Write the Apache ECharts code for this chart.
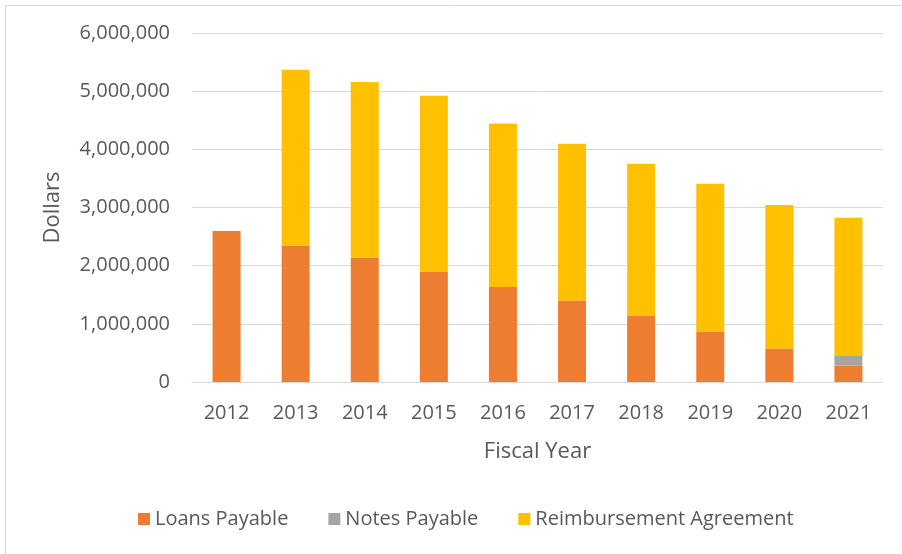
<!DOCTYPE html>
<html>
<head>
<meta charset="utf-8">
<script src="https://cdn.jsdelivr.net/npm/echarts@6/dist/echarts.min.js"></script>
<style>
  html, body { margin: 0; padding: 0; background: #fff; }
  #main { width: 902px; height: 554px; }
</style>
</head>
<body>
<div id="main"></div>
<script>
// fiscal years
var years = ['2012', '2013', '2014', '2015', '2016', '2017', '2018', '2019', '2020', '2021'];
// dollars per series
var loansPayable = [2596000, 2348000, 2142000, 1901000, 1633000, 1403000, 1135000, 870000, 578000, 285000];
var notesPayable = [0, 0, 0, 0, 0, 0, 0, 0, 0, 162000];
var reimbursement = [0, 3021000, 3015000, 3021000, 2813000, 2694000, 2618000, 2539000, 2465000, 2378000];
var seriesNames = ['Loans Payable', 'Notes Payable', 'Reimbursement Agreement'];

var chart = echarts.init(document.getElementById('main'), null, { renderer: 'canvas' });
var font = '"Open Sans", "Liberation Sans", sans-serif';
var textColor = '#595959';

var option = {
  backgroundColor: '#fff',
  animation: false,
  textStyle: { fontFamily: font },
  graphic: [{   // outer chart border (only top/left visible in the crop)
    type: 'rect',
    shape: { x: 5.5, y: 5.5, width: 920, height: 580 },
    style: { fill: 'none', stroke: '#D9D9D9', lineWidth: 1 },
    silent: true
  }],
  grid: {
    left: 192,
    right: 19,
    top: 33,
    bottom: 172
  },
  legend: {
    data: seriesNames,
    left: 133,
    top: 504,
    itemWidth: 12,
    itemHeight: 12,
    itemGap: 40,
    icon: 'rect',
    textStyle: { color: textColor, fontSize: 20, fontFamily: font }
  },
  xAxis: {
    type: 'category',
    data: years,
    name: 'Fiscal Year',
    nameLocation: 'middle',
    nameGap: 59,
    nameTextStyle: { color: textColor, fontSize: 22, fontFamily: font },
    axisLine: { lineStyle: { color: '#D9D9D9', width: 1 } },
    axisTick: { show: false },
    axisLabel: { color: textColor, fontSize: 20, margin: 21, fontFamily: font }
  },
  yAxis: {
    type: 'value',
    min: 0,
    max: 6000000,
    interval: 1000000,
    name: 'Dollars',
    nameLocation: 'middle',
    nameGap: 128,
    nameRotate: 90,
    nameTextStyle: { color: textColor, fontSize: 22, fontFamily: font },
    axisLine: { show: false },
    axisTick: { show: false },
    splitLine: { lineStyle: { color: '#D9D9D9', width: 1 } },
    axisLabel: {
      color: textColor,
      fontSize: 20,
      margin: 22,
      fontFamily: font,
      formatter: function (v) { return v.toLocaleString('en-US'); }
    }
  },
  series: [{
    name: seriesNames[0],
    type: 'bar',
    stack: 'total',
    barWidth: 28,
    data: loansPayable,
    itemStyle: { color: '#ED7D31' }
  }, {
    name: seriesNames[1],
    type: 'bar',
    stack: 'total',
    barWidth: 28,
    data: notesPayable,
    itemStyle: { color: '#A5A5A5' }
  }, {
    name: seriesNames[2],
    type: 'bar',
    stack: 'total',
    barWidth: 28,
    data: reimbursement,
    itemStyle: { color: '#FFC000' }
  }]
};

chart.setOption(option);
</script>
</body>
</html>
